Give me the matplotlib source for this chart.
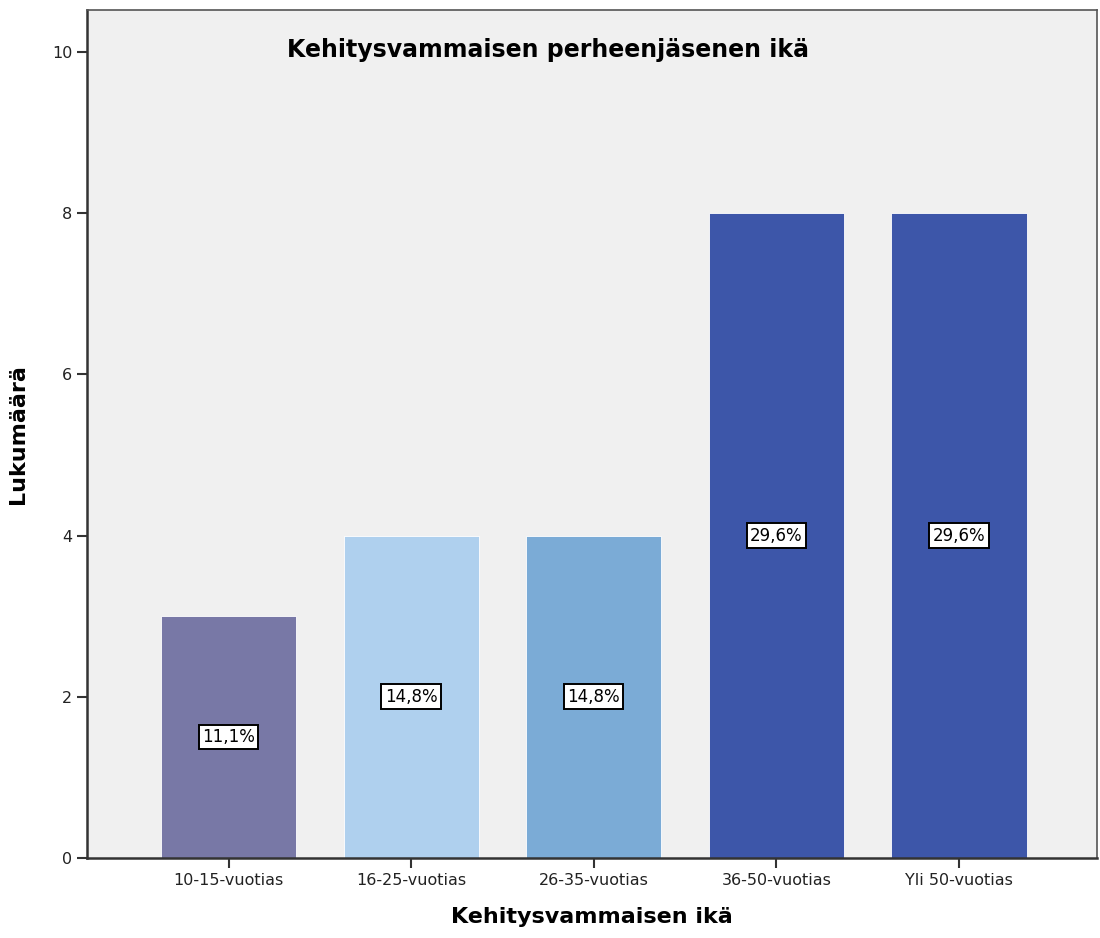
import matplotlib
matplotlib.use('Agg')
import matplotlib.pyplot as plt

categories = ['10-15-vuotias', '16-25-vuotias', '26-35-vuotias', '36-50-vuotias', 'Yli 50-vuotias']
counts = [3, 4, 4, 8, 8]
pct_labels = ['11,1%', '14,8%', '14,8%', '29,6%', '29,6%']
bar_colors = ['#7878A6', '#AFD0EE', '#7BABD6', '#3D56A9', '#3D56A9']
yticks = [0, 2, 4, 6, 8, 10]

fig = plt.figure(figsize=(11, 9.38), dpi=100)
ax = fig.add_axes([0.0791, 0.0853, 0.918, 0.904])
ax.set_facecolor('#F0F0F0')

x = list(range(len(categories)))
ax.bar(x, counts, width=0.74, color=bar_colors, edgecolor='white', linewidth=0.6, zorder=2)

for xi, c, lab in zip(x, counts, pct_labels):
    ax.text(xi, c / 2, lab, ha='center', va='center', fontsize=12, zorder=3,
            bbox=dict(boxstyle='square,pad=0.2', facecolor='white', edgecolor='black', linewidth=1.4))

ax.set_xlim(-0.775, 4.755)
ax.set_ylim(0, 10.52)
ax.set_xticks(x)
ax.set_xticklabels(categories, fontsize=11.5)
ax.set_yticks(yticks)
ax.set_yticklabels([str(t) for t in yticks], fontsize=11.5)
ax.tick_params(direction='out', length=7, width=1.5, colors='#333333', labelcolor='#222222')

for side in ['left', 'bottom']:
    ax.spines[side].set_linewidth(1.8)
    ax.spines[side].set_color('#333333')
for side in ['top', 'right']:
    ax.spines[side].set_linewidth(1.2)
    ax.spines[side].set_color('#555555')

ax.text(0.457, 0.953, 'Kehitysvammaisen perheenjäsenen ikä', transform=ax.transAxes,
        ha='center', va='center', fontsize=17, fontweight='bold')
ax.set_xlabel('Kehitysvammaisen ikä', fontsize=16, fontweight='bold', labelpad=14)
ax.set_ylabel('Lukumäärä', fontsize=16, fontweight='bold', labelpad=17)

fig.savefig('out.png', dpi=100)
